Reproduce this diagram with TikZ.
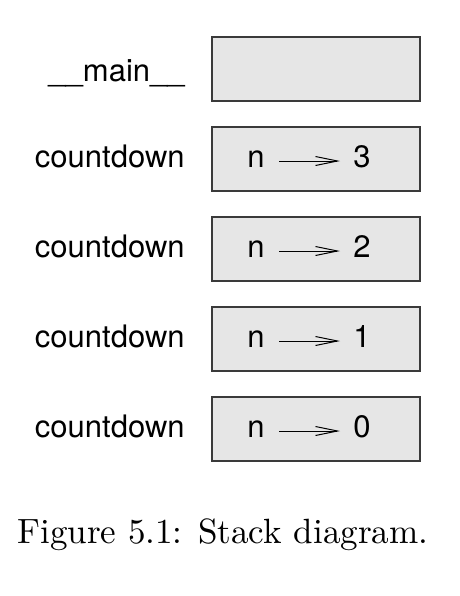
\documentclass[tikz,border=0pt]{standalone}
\usepackage{fontspec}
\usepackage{graphicx}
\usetikzlibrary{arrows.meta}
\newfontfamily\labelfont{TeX Gyre Heros}
\definecolor{framefill}{HTML}{E6E6E6}
\definecolor{framedraw}{HTML}{3A3A3A}
\begin{document}
\begin{tikzpicture}[x=0.5pt,y=-0.5pt,
  frame/.style={draw=framedraw,fill=framefill,line width=0.75pt},
  lbl/.style={font=\labelfont\fontsize{15.5pt}{18pt}\selectfont,inner sep=0pt,anchor=base east},
  txt/.style={font=\labelfont\fontsize{15.5pt}{18pt}\selectfont,inner sep=0pt},
  arr/.style={line width=0.5pt,-{Straight Barb[length=11pt,width=4.5pt,line width=0.5pt]}}]
  \useasboundingbox (0,0) rectangle (460,596);
  % main frame
  \draw[frame] (212,37) rectangle (420,101);
  \node[lbl] (mainlbl) at (185,81) {\_\_main\_\_};
  % countdown frames
  \foreach \i/\v in {1/3,2/2,3/1,4/0}{
    \pgfmathsetmacro{\top}{37+90*\i}
    \pgfmathsetmacro{\bot}{\top+64}
    \pgfmathsetmacro{\base}{\top+40}
    \draw[frame] (212,\top) rectangle (420,\bot);
    \node[lbl] (cd\i) at (185,\base) {countdown};
    \node[txt,anchor=base west] (n\i) at (247,\base) {n};
    \node[txt,anchor=base west] (v\i) at (353,\base) {\v};
    \draw[arr] ([xshift=7pt,yshift=3pt]n\i.base east) -- ([xshift=-6.5pt,yshift=3pt]v\i.base west);
  }
  \node[inner sep=0pt,anchor=base west] (cap) at (17,543)
    {\resizebox{205.5pt}{!}{\addfontfeatures{FakeBold=0.6}Figure 5.1: Stack diagram.}};
\end{tikzpicture}
\end{document}
